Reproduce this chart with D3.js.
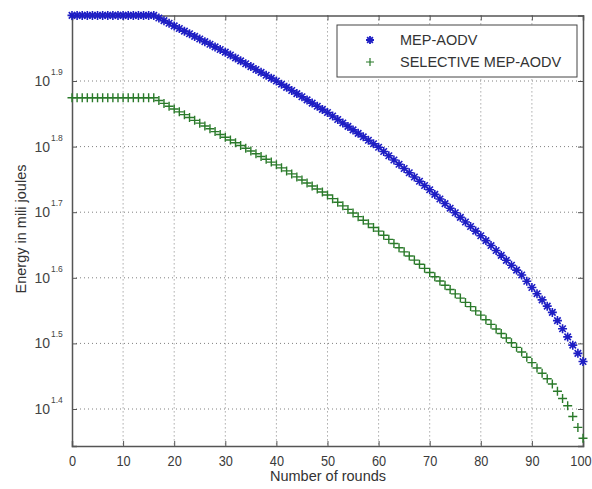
<!DOCTYPE html>
<html>
<head>
<meta charset="utf-8">
<script src="https://cdnjs.cloudflare.com/ajax/libs/d3/7.8.5/d3.min.js"></script>
<style>
  body { margin: 0; background: #fff; }
  svg { display: block; font-family: "Liberation Sans", Arial, sans-serif; }
</style>
</head>
<body>
<svg id="chart" width="592" height="489"></svg>
<script>
// rounds 0..100
const rounds = d3.range(0, 101);

// energy left (mJ), one value per round
const mepAodv = [
  100.00, 100.00, 100.00, 100.00, 100.00, 100.00, 100.00, 100.00, 100.00, 100.00,
  100.00, 100.00, 100.00, 100.00, 100.00, 100.00, 100.00, 99.08, 98.17, 97.27,
  96.38, 95.50, 94.62, 93.75, 92.89, 92.04, 91.20, 90.36, 89.53, 88.71,
  87.90, 87.01, 86.13, 85.26, 84.40, 83.55, 82.71, 81.88, 81.05, 80.23,
  79.42, 78.55, 77.69, 76.84, 76.00, 75.16, 74.33, 73.51, 72.70, 71.90,
  71.11, 70.25, 69.40, 68.56, 67.73, 66.91, 66.10, 65.30, 64.51, 63.73,
  62.96, 62.03, 61.11, 60.20, 59.31, 58.43, 57.56, 56.71, 55.87, 55.04,
  54.22, 53.35, 52.50, 51.66, 50.83, 50.02, 49.22, 48.43, 47.66, 46.90,
  46.15, 45.36, 44.58, 43.82, 43.07, 42.33, 41.61, 40.90, 40.20, 39.33,
  38.48, 37.65, 36.84, 36.04, 35.26, 34.26, 33.29, 32.35, 31.43, 30.54,
  29.67
];
const selectiveMepAodv = [
  74.90, 74.90, 74.90, 74.90, 74.90, 74.90, 74.90, 74.90, 74.90, 74.90,
  74.90, 74.90, 74.90, 74.90, 74.90, 74.90, 74.90, 74.16, 73.43, 72.71,
  71.99, 71.28, 70.58, 69.88, 69.19, 68.51, 67.84, 67.17, 66.51, 65.85,
  65.20, 64.57, 63.95, 63.33, 62.72, 62.12, 61.52, 60.93, 60.34, 59.76,
  59.18, 58.56, 57.94, 57.33, 56.73, 56.13, 55.54, 54.95, 54.37, 53.80,
  53.23, 52.56, 51.90, 51.25, 50.61, 49.97, 49.34, 48.72, 48.11, 47.50,
  46.90, 46.22, 45.56, 44.90, 44.25, 43.61, 42.98, 42.36, 41.75, 41.15,
  40.56, 39.96, 39.37, 38.78, 38.20, 37.63, 37.07, 36.52, 35.98, 35.45,
  34.92, 34.36, 33.81, 33.27, 32.74, 32.22, 31.70, 31.19, 30.69, 30.12,
  29.56, 29.01, 28.47, 27.94, 27.42, 26.73, 26.06, 25.41, 24.46, 23.55,
  22.67
];

const xTicks = [0, 10, 20, 30, 40, 50, 60, 70, 80, 90, 100];
const yExponents = ["1.4", "1.5", "1.6", "1.7", "1.8", "1.9"];
const seriesNames = ["MEP-AODV", "SELECTIVE MEP-AODV"];

// ---- layout
const mLeft = 72, mRight = 583, mTop = 15.4, mBottom = 446;
const svg = d3.select("#chart");

const x = d3.scaleLinear().domain([0, 100]).range([mLeft, mRight]);
const y = d3.scaleLog().domain([Math.pow(10, 1.3436), 100]).range([mBottom, mTop]);

const yTickVals = yExponents.map(e => Math.pow(10, +e));

// grid (dotted)
const grid = svg.append("g");
grid.selectAll(".gx").data(xTicks.slice(1, -1)).join("line")
  .attr("x1", d => x(d)).attr("x2", d => x(d))
  .attr("y1", mTop).attr("y2", mBottom)
  .attr("stroke", "#808080").attr("stroke-width", 1).attr("stroke-dasharray", "1,3");
grid.selectAll(".gy").data(yTickVals).join("line")
  .attr("x1", mLeft).attr("x2", mRight)
  .attr("y1", d => y(d)).attr("y2", d => y(d))
  .attr("stroke", "#808080").attr("stroke-width", 1).attr("stroke-dasharray", "1,3");

// axes with inward ticks
const axisColor = "#555";
const xAxis = d3.axisBottom(x).tickValues(xTicks).tickSize(-5).tickPadding(9).tickFormat(d3.format("d"));
const xAxisTop = d3.axisTop(x).tickValues(xTicks).tickSize(-5).tickFormat("");
const yAxis = d3.axisLeft(y).tickValues(yTickVals).tickSize(-5).tickFormat("");
const yAxisRight = d3.axisRight(y).tickValues(yTickVals).tickSize(-5).tickFormat("");

function styleAxis(g) {
  g.select(".domain").attr("stroke", axisColor).attr("stroke-width", 1.5);
  g.selectAll(".tick line").attr("stroke", axisColor);
  g.selectAll(".tick text").attr("fill", "#3a3a3a").attr("font-size", 15);
}

svg.append("g").attr("transform", `translate(0,${mBottom})`).call(xAxis).call(styleAxis)
  .selectAll(".tick text").attr("transform", "scale(0.85,1)")
  .attr("dx", d => d === 100 ? -3 : 0);
svg.append("g").attr("transform", `translate(0,${mTop})`).call(xAxisTop).call(styleAxis);
svg.append("g").attr("transform", `translate(${mLeft},0)`).call(yAxis).call(styleAxis);
svg.append("g").attr("transform", `translate(${mRight},0)`).call(yAxisRight).call(styleAxis);

// y tick labels 10^e
const ylab = svg.append("g").attr("fill", "#444");
yExponents.forEach(e => {
  const yy = y(Math.pow(10, +e));
  ylab.append("text").attr("x", 50).attr("y", yy + 5)
    .attr("text-anchor", "end").attr("font-size", 14).text("10");
  ylab.append("text").attr("x", 51).attr("y", yy - 6)
    .attr("font-size", 8.5).text(e);
});

// axis titles
svg.append("text").attr("x", 328).attr("y", 481).attr("text-anchor", "middle")
  .attr("font-size", 14.5).attr("fill", "#333")
  .text("Number of rounds");
svg.append("text").attr("transform", "translate(26,229) rotate(-90)")
  .attr("text-anchor", "middle").attr("font-size", 14.5).attr("fill", "#333")
  .text("Energy in mili joules");

// markers
const blue = "#1e1ec4", green = "#2a7a2a";

function crossPath(s) {
  return `M${-s},0H${s}M0,${-s}V${s}`;
}
function starPath(s) {
  const k = s * 0.72;
  return `M${-s},0H${s}M0,${-s}V${s}M${-k},${-k}L${k},${k}M${-k},${k}L${k},${-k}`;
}

const plot = svg.append("g");
plot.selectAll(".g").data(rounds).join("path")
  .attr("transform", d => `translate(${x(d)},${y(selectiveMepAodv[d])})`)
  .attr("d", crossPath(4.5))
  .attr("fill", "none").attr("stroke", green).attr("stroke-width", 1.4);
plot.selectAll(".b").data(rounds).join("path")
  .attr("transform", d => `translate(${x(d)},${y(mepAodv[d])})`)
  .attr("d", starPath(4.5))
  .attr("fill", "none").attr("stroke", blue).attr("stroke-width", 1.6);

// legend
const lg = svg.append("g");
lg.append("rect").attr("x", 337).attr("y", 25).attr("width", 240).attr("height", 52)
  .attr("fill", "#fff").attr("stroke", "#444").attr("stroke-width", 1);
const legendY = [40, 62];
lg.selectAll(".lm").data(seriesNames).join("path")
  .attr("transform", (d, i) => `translate(370,${legendY[i]})`)
  .attr("d", (d, i) => i === 0 ? starPath(4) : crossPath(4))
  .attr("fill", "none").attr("stroke", (d, i) => i === 0 ? blue : green)
  .attr("stroke-width", (d, i) => i === 0 ? 1.8 : 1.2);
lg.selectAll(".lt").data(seriesNames).join("text")
  .attr("x", 400).attr("y", (d, i) => legendY[i] + 5)
  .attr("font-size", 14.5).attr("fill", "#333")
  .text(d => d);
</script>
</body>
</html>
